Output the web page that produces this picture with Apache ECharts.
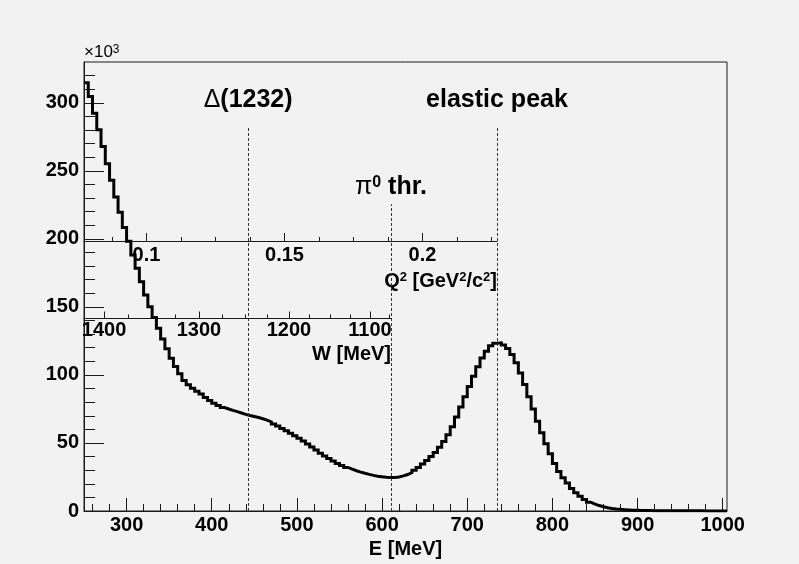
<!DOCTYPE html>
<html><head><meta charset="utf-8">
<script src="https://cdn.jsdelivr.net/npm/echarts@6/dist/echarts.min.js"></script>
<style>html,body{margin:0;padding:0;background:#f2f2f2}#c{width:799px;height:564px}</style>
</head><body><div id="c"></div>
<script>
// ---- data (counts in units of 10^3, 5 MeV bins starting at 250 MeV) ----
const binLow = 250;
const binWidth = 5;
const counts = [
 314.7,304.6,292.4,280.2,267.9,255.2,243.0,230.7,219.6,208.4,
 198.3,188.1,178.4,168.5,158.8,150.2,142.3,134.3,126.5,119.2,
 112.3,106.2,100.8,96.0,92.8,90.2,88.0,86.0,83.5,81.2,
 79.2,77.5,76.0,75.0,74.0,73.0,72.0,71.0,70.2,69.5,
 68.7,67.8,66.8,65.5,64.0,62.4,60.7,59.0,57.2,55.3,
 53.4,51.4,49.3,47.0,44.8,42.5,40.5,38.5,36.8,35.0,
 33.5,32.0,30.8,29.6,28.6,27.7,26.9,26.2,25.6,25.1,
 24.8,24.6,24.6,25.0,25.8,26.8,28.2,30.0,32.0,34.5,
 37.2,40.0,43.0,46.8,51.0,56.0,62.0,69.0,76.5,84.0,
 91.5,99.0,106.0,112.5,117.5,121.5,123.3,123.6,122.0,119.5,
 115.0,109.0,101.5,93.0,84.0,75.0,66.0,57.5,49.5,42.0,
 35.0,29.0,24.5,20.5,16.5,13.5,10.8,8.5,6.5,5.1,
 4.0,3.1,2.4,1.9,1.5,1.2,0.95,0.75,0.6,0.5,
 0.42,0.36,0.31,0.27,0.24,0.21,0.19,0.17,0.15,0.14,
 0.13,0.12,0.11,0.1,0.1,0.09,0.09,0.08,0.08,0.07,0.07
];
const eRange = [250, 1005];
const eMajorTicks = [300,400,500,600,700,800,900,1000];
const eMinorTicks = [260,280,320,340,360,380,420,440,460,480,520,540,560,580,620,640,660,680,720,740,760,780,820,840,860,880,920,940,960,980];
const yRange = [0, 330];
const yMajorTicks = [0,50,100,150,200,250,300];
const yMinorTicks = [10,20,30,40,60,70,80,90,110,120,130,140,160,170,180,190,210,220,230,240,260,270,280,290,310,320];
// inner Q^2 axis (linear)
const q2Range = [0.07738, 0.22698];
const q2MajorTicks = [0.1, 0.15, 0.2];
const q2MinorTicks = [0.0875,0.1125,0.125,0.1375,0.1625,0.175,0.1875,0.2125,0.225];
// inner W axis (non-linear in E): W tick values and the E positions where they sit
const wRangeE = [250, 610.5];
const wTickW = [1400,1375,1350,1325,1300,1275,1250,1225,1200,1175,1150,1125,1100,1075];
const wTickE = [273.5,302.0,329.8,357.7,385.0,412.4,439.0,465.2,490.7,514.5,538.9,562.3,585.8,608.5];
const wLabelW = [1400,1300,1200,1100];
// marker lines: [E position, top value (10^3)]
const markerDelta = [442.7, 282];
const markerPi0 = [610.5, 225.5];
const markerElastic = [734.9, 282];

// ---- build ----
const histData = counts.map((v, i) => [binLow + i * binWidth, v]);
histData.push([binLow + counts.length * binWidth, counts[counts.length - 1]]);
const wLabelE = wLabelW.map(w => wTickE[wTickW.indexOf(w)]);

const FF = "'Liberation Sans', Arial, Helvetica, sans-serif";
const AX = '#1a1a1a';
const lbl = {fontFamily: FF, fontWeight: 'bold', fontSize: 20, color: '#000'};
const tickStyle = {color: AX, width: 1};
const plain = v => String(v);

function majorAxis(o) { return Object.assign({type: 'value', splitLine: {show: false}, position: 'bottom'}, o); }

const chart = echarts.init(document.getElementById('c'), null, {renderer: 'canvas'});
chart.setOption({
  animation: false,
  backgroundColor: '#f2f2f2',
  grid: [
    {left: 84, top: 62, width: 643, height: 449, show: true, borderColor: AX, borderWidth: 1, backgroundColor: 'transparent', outerBoundsMode: 'none'},
    {left: 84, top: 200, width: 413, height: 41, outerBoundsMode: 'none'},
    {left: 84, top: 280, width: 307, height: 38, outerBoundsMode: 'none'}
  ],
  xAxis: [
    majorAxis({gridIndex: 0, min: eRange[0], max: eRange[1],
      axisLine: {show: true, lineStyle: {color: AX, width: 1}},
      axisTick: {inside: true, length: 13, customValues: eMajorTicks, lineStyle: tickStyle},
      axisLabel: Object.assign({customValues: eMajorTicks, margin: 4, formatter: plain}, lbl),
      name: 'E [MeV]', nameLocation: 'middle', nameGap: 25, nameTextStyle: lbl}),
    majorAxis({gridIndex: 0, min: eRange[0], max: eRange[1],
      axisLine: {show: false},
      axisTick: {inside: true, length: 7, customValues: eMinorTicks, lineStyle: tickStyle},
      axisLabel: {show: false}}),
    majorAxis({gridIndex: 1, min: q2Range[0], max: q2Range[1],
      axisLine: {show: true, lineStyle: {color: AX, width: 1}},
      axisTick: {inside: true, length: 8, customValues: q2MajorTicks, lineStyle: tickStyle},
      axisLabel: Object.assign({customValues: q2MajorTicks, margin: 4, formatter: plain}, lbl),
      name: 'Q{s|2} [GeV{s|2}/c{s|2}]', nameLocation: 'end', nameGap: 0,
      nameTextStyle: Object.assign({align: 'right', verticalAlign: 'top', padding: [30, 0, 0, 0],
        rich: {s: {fontFamily: FF, fontWeight: 'bold', fontSize: 13, verticalAlign: 'top', color: '#000'}}}, lbl)}),
    majorAxis({gridIndex: 1, min: q2Range[0], max: q2Range[1],
      axisLine: {show: false},
      axisTick: {inside: true, length: 4, customValues: q2MinorTicks, lineStyle: tickStyle},
      axisLabel: {show: false}}),
    majorAxis({gridIndex: 2, min: wRangeE[0], max: wRangeE[1],
      axisLine: {show: true, lineStyle: {color: AX, width: 1}},
      axisTick: {inside: true, length: 6.5, customValues: wLabelE, lineStyle: tickStyle},
      axisLabel: Object.assign({customValues: wLabelE, margin: 2,
        formatter: v => { let best = 0; wTickE.forEach((e, i) => { if (Math.abs(e - v) < Math.abs(wTickE[best] - v)) best = i; }); return String(wTickW[best]); }}, lbl),
      name: 'W [MeV]', nameLocation: 'end', nameGap: 0,
      nameTextStyle: Object.assign({align: 'right', verticalAlign: 'top', padding: [26, 0, 0, 0]}, lbl)}),
    majorAxis({gridIndex: 2, min: wRangeE[0], max: wRangeE[1],
      axisLine: {show: false},
      axisTick: {inside: true, length: 3.5, customValues: wTickE.filter(e => wLabelE.indexOf(e) < 0), lineStyle: tickStyle},
      axisLabel: {show: false}})
  ],
  yAxis: [
    {type: 'value', gridIndex: 0, min: yRange[0], max: yRange[1], position: 'left', splitLine: {show: false},
      axisLine: {show: true, lineStyle: {color: AX, width: 1}},
      axisTick: {inside: true, length: 20, customValues: yMajorTicks, lineStyle: tickStyle},
      axisLabel: Object.assign({customValues: yMajorTicks, margin: 5, formatter: plain}, lbl),
      name: '\u00d710{s|3}', nameLocation: 'end', nameGap: 1,
      nameTextStyle: {fontFamily: FF, fontSize: 17, color: '#000', align: 'left', verticalAlign: 'bottom',
        rich: {s: {fontFamily: FF, fontSize: 12, color: '#000', verticalAlign: 'top'}}}},
    {type: 'value', gridIndex: 0, min: yRange[0], max: yRange[1], position: 'left', splitLine: {show: false},
      axisLine: {show: false},
      axisTick: {inside: true, length: 11, customValues: yMinorTicks, lineStyle: tickStyle},
      axisLabel: {show: false}},
    {type: 'value', gridIndex: 1, min: 0, max: 1, show: false},
    {type: 'value', gridIndex: 2, min: 0, max: 1, show: false}
  ],
  series: [{
    type: 'line', xAxisIndex: 0, yAxisIndex: 0, data: histData, step: 'end',
    showSymbol: false, symbol: 'none', silent: true,
    lineStyle: {color: '#000', width: 3, join: 'miter'},
    markLine: {
      silent: true, symbol: ['none', 'none'],
      lineStyle: {color: '#333', width: 1, type: [3, 2]},
      label: {show: true, position: 'end', fontFamily: FF, fontWeight: 'bold', fontSize: 25, color: '#000'},
      data: [
        [{coord: [markerDelta[0], 0], label: {formatter: '{g|\u0394}(1232)', distance: 15,
           rich: {g: {fontFamily: FF, fontSize: 25, fontWeight: 'normal', color: '#000'}}}},
         {coord: [markerDelta[0], markerDelta[1]]}],
        [{coord: [markerPi0[0], 0], label: {formatter: '{g|\u03c0}{s|0} thr.', distance: 5,
           rich: {g: {fontFamily: FF, fontSize: 25, fontWeight: 'normal', color: '#000'},
                  s: {fontFamily: FF, fontSize: 16, fontWeight: 'bold', color: '#000', verticalAlign: 'top'}}}},
         {coord: [markerPi0[0], markerPi0[1]]}],
        [{coord: [markerElastic[0], 0], label: {formatter: 'elastic peak', distance: 15}},
         {coord: [markerElastic[0], markerElastic[1]]}]
      ]
    }
  }]
});
</script></body></html>
